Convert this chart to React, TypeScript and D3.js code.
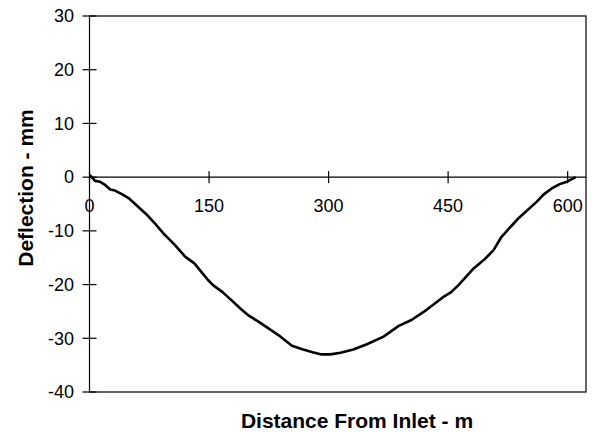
import React from "react";
import * as d3 from "d3";

// Pipe deflection profile along the line
const distance = [1, 7, 13, 20, 26, 32, 40, 49, 61, 72, 82, 93, 107, 120, 132, 139, 149, 155, 167, 178, 191, 200, 212, 225, 237, 254, 268, 280, 291, 302, 315, 331, 348, 369, 388, 404, 423, 444, 453, 463, 482, 495, 507, 517, 538, 561, 570, 580, 590, 599, 609];
const deflection = [0.3, -0.7, -0.85, -1.5, -2.3, -2.5, -3.1, -3.9, -5.5, -7.0, -8.6, -10.5, -12.6, -14.8, -16.1, -17.4, -19.2, -20.1, -21.4, -22.9, -24.7, -25.8, -26.9, -28.2, -29.4, -31.4, -32.1, -32.6, -33.0, -33.0, -32.7, -32.1, -31.1, -29.7, -27.7, -26.6, -24.7, -22.3, -21.5, -20.1, -17.0, -15.4, -13.6, -11.1, -7.7, -4.6, -3.2, -2.1, -1.3, -0.85, -0.1];

const xTicks = [0, 150, 300, 450, 600];
const yTicks = [30, 20, 10, 0, -10, -20, -30, -40];

const W = 592;
const H = 434;
const plot = { left: 89.5, right: 586, top: 16, bottom: 392 };
const font = "'Liberation Sans', Arial, Helvetica, sans-serif";

export default function App() {
  const x = d3.scaleLinear().domain([0, 623]).range([plot.left, plot.right]);
  const y = d3.scaleLinear().domain([-40, 30]).range([plot.bottom, plot.top]);
  const pts: [number, number][] = distance.map((d, i) => [d, deflection[i]]);
  const line = d3
    .line<[number, number]>()
    .x((d) => x(d[0]))
    .y((d) => y(d[1]));
  const y0 = y(0);

  return (
    <svg
      width={W}
      height={H}
      style={{ position: "absolute", left: 0, top: 0, background: "#fff" }}
      fontFamily={font}
    >
      <rect x={0} y={0} width={W} height={H} fill="#fff" />
      {/* plot frame */}
      <rect
        x={plot.left}
        y={plot.top}
        width={plot.right - plot.left}
        height={plot.bottom - plot.top}
        fill="none"
        stroke="#000"
        strokeWidth={1.2}
      />
      {/* zero line acting as the x axis */}
      <line x1={plot.left} x2={plot.right} y1={y0} y2={y0} stroke="#000" strokeWidth={1.2} />
      {/* y ticks and labels */}
      {yTicks.map((t) => (
        <g key={"y" + t}>
          <line x1={plot.left - 7} x2={plot.left + 7} y1={y(t)} y2={y(t)} stroke="#000" strokeWidth={1.2} />
          <text x={74} y={y(t)} dy="0.35em" textAnchor="end" fontSize={18} fill="#000">
            {t}
          </text>
        </g>
      ))}
      {/* x ticks and labels */}
      {xTicks.map((t) => (
        <g key={"x" + t}>
          <line x1={x(t)} x2={x(t)} y1={y0 - 6} y2={y0 + 6} stroke="#000" strokeWidth={1.2} />
          <text x={x(t)} y={211.5} textAnchor="middle" fontSize={18} fill="#000">
            {t}
          </text>
        </g>
      ))}
      {/* deflection curve */}
      <path d={line(pts) ?? ""} fill="none" stroke="#000" strokeWidth={2.6} strokeLinejoin="round" strokeLinecap="round" />
      {/* axis titles */}
      <text x={357} y={428} textAnchor="middle" fontSize={21} fontWeight="bold" fill="#000">
        Distance From Inlet - m
      </text>
      <text
        transform={`translate(33, 188) rotate(-90)`}
        textAnchor="middle"
        fontSize={21}
        fontWeight="bold"
        fill="#000"
      >
        Deflection - mm
      </text>
    </svg>
  );
}
